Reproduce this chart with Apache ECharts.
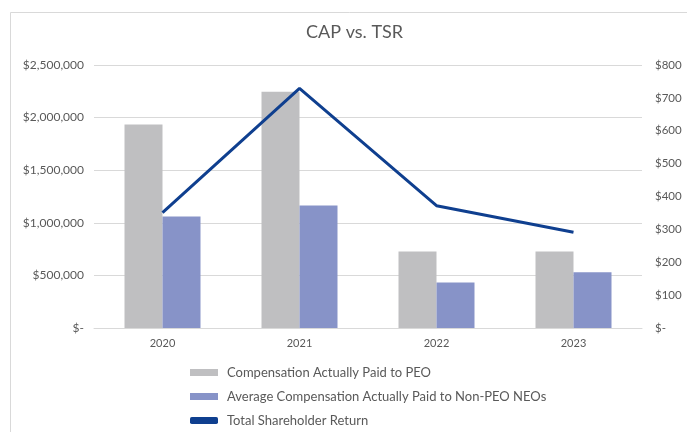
<!DOCTYPE html>
<html><head><meta charset="utf-8">
<script src="https://cdn.jsdelivr.net/npm/echarts@6/dist/echarts.min.js"></script>
<style>html,body{margin:0;padding:0;background:#fff}#c{width:687px;height:432px}</style>
</head><body><div id="c"></div>
<script>
const categories = ['2020', '2021', '2022', '2023'];
const capPEO = [1935000, 2245000, 728000, 728000];
const capNonPEO = [1060000, 1165000, 432000, 530000];
const tsr = [351, 729, 372, 291];
const seriesNames = ['Compensation Actually Paid to PEO', 'Average Compensation Actually Paid to Non-PEO NEOs', 'Total Shareholder Return'];

const font = 'Lato, "Open Sans", sans-serif';
const chart = echarts.init(document.getElementById('c'), null, {renderer: 'canvas'});
function fmtLeft(v){ return v === 0 ? '$-' : '$' + v.toLocaleString('en-US'); }
function fmtRight(v){ return v === 0 ? '$-' : '$' + v; }
chart.setOption({
  animation: false,
  backgroundColor: '#fff',
  graphic: [{type: 'rect', shape: {x: 10.5, y: 12.5, width: 700, height: 440}, style: {fill: 'none', stroke: '#d9d9d9', lineWidth: 1}, silent: true}],
  title: {text: 'CAP vs. TSR', left: 306, top: 23, padding: 0, textStyle: {fontFamily: font, fontSize: 18, fontWeight: 'normal', color: '#595959'}},
  grid: {left: 94, right: 45, top: 65, bottom: 104},
  legend: {orient: 'vertical', left: 190, top: 366, width: 440, height: 120, padding: 0, itemGap: 11, itemWidth: 28, itemHeight: 7,
    textStyle: {fontFamily: font, fontSize: 13, color: '#595959', padding: [0, 0, 0, 4]},
    data: [{name: seriesNames[0], icon: 'rect'}, {name: seriesNames[1], icon: 'rect'}, {name: seriesNames[2], icon: 'roundRect'}]},
  xAxis: {type: 'category', data: categories,
    axisLine: {lineStyle: {color: '#d9d9d9'}}, axisTick: {show: false},
    axisLabel: {fontFamily: font, fontSize: 11, color: '#595959', margin: 10}},
  yAxis: [
    {type: 'value', min: 0, max: 2500000, interval: 500000,
      axisLine: {show: false}, axisTick: {show: false},
      splitLine: {lineStyle: {color: '#d9d9d9'}},
      axisLabel: {formatter: fmtLeft, fontFamily: font, fontSize: 12, color: '#595959', margin: 10}},
    {type: 'value', min: 0, max: 800, interval: 100, position: 'right',
      axisLine: {show: false}, axisTick: {show: false}, splitLine: {show: false},
      axisLabel: {formatter: fmtRight, fontFamily: font, fontSize: 11.5, color: '#595959', margin: 13}}
  ],
  series: [
    {name: seriesNames[0], type: 'bar', data: capPEO, barWidth: 38, barGap: '0%', itemStyle: {color: '#bfbfc1'}},
    {name: seriesNames[1], type: 'bar', data: capNonPEO, barWidth: 38, barGap: '0%', itemStyle: {color: '#8793c8'}},
    {name: seriesNames[2], type: 'line', yAxisIndex: 1, data: tsr, symbol: 'none',
      lineStyle: {color: '#0f3f8f', width: 3}, itemStyle: {color: '#0f3f8f'}}
  ]
});
</script></body></html>
